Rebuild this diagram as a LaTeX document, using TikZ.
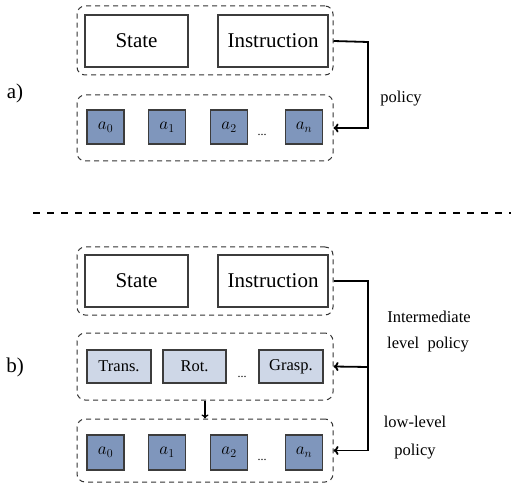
\documentclass[tikz,border=0pt]{standalone}
\usepackage{fontspec}
\setmainfont{Liberation Serif}
\usetikzlibrary{arrows.meta}
\definecolor{darkbl}{RGB}{127,150,188}
\definecolor{lightbl}{RGB}{206,215,231}
\definecolor{edgegray}{RGB}{60,60,60}
\begin{document}
\begin{tikzpicture}[x=1pt,y=-1pt,
  big/.style={font=\fontsize{21}{25}\selectfont},
  small/.style={font=\fontsize{16.5}{20}\selectfont},
  dbox/.style={draw=black!80,dashed,dash pattern=on 5pt off 4pt,line width=1pt,rounded corners=8pt,inner sep=0pt},
  inbox/.style={draw=edgegray,line width=1.1pt,fill=white,big,minimum height=52pt,inner sep=0pt},
  abox/.style={draw=edgegray,line width=1.1pt,fill=darkbl,minimum width=37pt,minimum height=34pt,inner sep=0pt,font=\fontsize{17}{20}\selectfont},
  sbox/.style={draw=edgegray,line width=1.1pt,fill=lightbl,minimum width=64pt,minimum height=33pt,inner sep=0pt,small},
  conn/.style={draw=black,line width=1.8pt,-{To[length=5pt,width=9pt]}},
  lbl/.style={small,inner sep=0pt}
]
\useasboundingbox (0,0) rectangle (511,486);

% ---------- a) ----------
\node[dbox,minimum width=256pt,minimum height=69pt] (topA) at (205,40.5) {};
\node[inbox,minimum width=103pt] (stateA) at (136.5,41) {State};
\node[inbox,minimum width=110pt] (instrA) at (273,41) {Instruction};
\node[dbox,minimum width=256pt,minimum height=66pt] (actA) at (205,128) {};
\node[abox] (a0A) at (105.5,127) {$a_0$};
\node[abox] (a1A) at (167,127) {$a_1$};
\node[abox] (a2A) at (229,127) {$a_2$};
\node[abox] (anA) at (304,127) {$a_n$};
\node[lbl,font=\fontsize{12}{14}\selectfont] (dotsA) at (262,135) {...};
\coordinate (cornA) at (368,42);
\draw[conn] (topA.east |- instrA.east) -- (cornA) |- (actA.east);
\node[lbl] (polA) at (401,99) {policy};
\node[big,inner sep=0pt] (labA) at (15,93) {a)};

% ---------- separator ----------
\coordinate (sepL) at (33,213);
\coordinate (sepR) at (511,213);
\draw[line width=1.4pt,dash pattern=on 7pt off 7pt] (sepL) -- (sepR);

% ---------- b) ----------
\node[dbox,minimum width=256pt,minimum height=68pt] (topB) at (205,281) {};
\node[inbox,minimum width=103pt] (stateB) at (136.5,281) {State};
\node[inbox,minimum width=110pt] (instrB) at (273,281) {Instruction};
\node[dbox,minimum width=256pt,minimum height=67pt] (midB) at (205,366.5) {};
\node[sbox] (trans) at (119,366.5) {Trans.};
\node[sbox,minimum width=63pt] (rot) at (194.5,366.5) {Rot.};
\node[sbox] (grasp) at (291,366.5) {Grasp.};
\node[lbl,font=\fontsize{12}{14}\selectfont] (dotsM) at (242,377) {...};
\node[dbox,minimum width=256pt,minimum height=63pt] (actB) at (205,450.5) {};
\node[abox,minimum height=35pt] (a0B) at (105.5,452.5) {$a_0$};
\node[abox,minimum height=35pt] (a1B) at (167,452.5) {$a_1$};
\node[abox,minimum height=35pt] (a2B) at (229,452.5) {$a_2$};
\node[abox,minimum height=35pt] (anB) at (304,452.5) {$a_n$};
\node[lbl,font=\fontsize{12}{14}\selectfont] (dotsB) at (262,460) {...};
\draw[draw=black,line width=1.3pt,-{To[length=4pt,width=7pt]}] (midB.south) -- (actB.north);
\coordinate (cornB) at (368,281);
\coordinate (jB) at (368,367);
\draw[conn] (topB.east |- instrB.east) -- (cornB) |- (actB.east);
\draw[conn] (jB) -- (midB.east);
\node[lbl] (interT) at (429,317) {Intermediate};
\node[lbl] (interL) at (428,345) {level\ \ policy};
\node[lbl] (lowT) at (415,422) {low-level};
\node[lbl] (lowP) at (415,452) {policy};
\node[big,inner sep=0pt] (labB) at (15,367) {b)};
\end{tikzpicture}
\end{document}
